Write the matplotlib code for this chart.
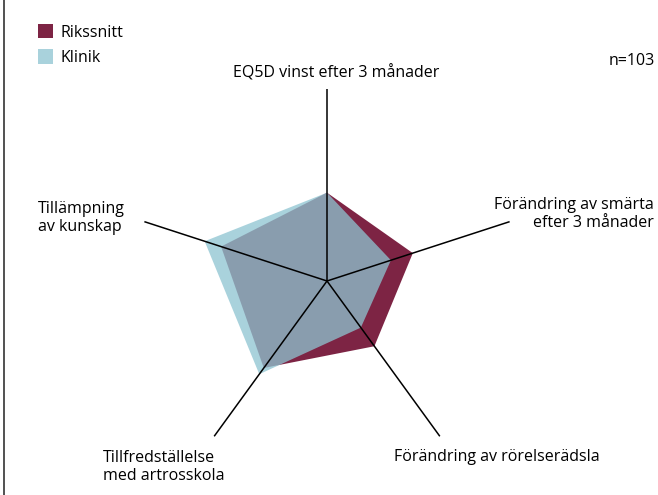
import numpy as np
import matplotlib.pyplot as plt
from matplotlib.lines import Line2D

plt.rcParams['font.family'] = ['Open Sans', 'DejaVu Sans']

# Axes in clockwise order from the top
categories = ['EQ5D vinst efter 3 månader',
              'Förändring av smärta\nefter 3 månader',
              'Förändring av rörelserädsla',
              'Tillfredställelse\nmed artrosskola',
              'Tillämpning\nav kunskap']
rikssnitt = [0.46, 0.47, 0.42, 0.56, 0.58]
klinik = [0.46, 0.35, 0.30, 0.60, 0.67]
n_label = 'n=103'

W, H = 658, 495
fig = plt.figure(figsize=(W / 100, H / 100), dpi=100)

def fx(px):
    return px / W

def fy(py):
    return 1 - py / H

# polar axes centred on pixel (327, 281), radius 1 = 192 px
cx, cy, R = 327, 281, 192
ax = fig.add_axes([fx(cx - R), fy(cy + R), 2 * R / W, 2 * R / H], projection='polar')
ax.set_theta_zero_location('N')
ax.set_theta_direction(-1)
ax.set_ylim(0, 1)
ax.axis('off')

theta = np.arange(len(categories)) * 2 * np.pi / len(categories)
th = np.append(theta, theta[0])

ax.fill(th, np.append(rikssnitt, rikssnitt[0]), color='#7d2444', lw=0, label='Rikssnitt', zorder=2)
ax.fill(th, np.append(klinik, klinik[0]), color='#8ec4d1', alpha=0.76, lw=0, label='Klinik', zorder=3)

for t in theta:
    ax.plot([t, t], [0, 1], color='black', lw=1.1, zorder=4)

fs = 11.5
ls = 1.17
# y positions are the baseline of the last line
fig.text(fx(336), fy(78), categories[0], ha='center', va='baseline', fontsize=fs)
fig.text(fx(654), fy(227), categories[1], ha='right', va='baseline', fontsize=fs,
         multialignment='right', linespacing=ls)
fig.text(fx(394), fy(461), categories[2], ha='left', va='baseline', fontsize=fs)
fig.text(fx(103), fy(480), categories[3], ha='left', va='baseline', fontsize=fs,
         linespacing=ls)
fig.text(fx(38), fy(231), categories[4], ha='left', va='baseline', fontsize=fs,
         linespacing=ls)
fig.text(fx(655), fy(65), n_label, ha='right', va='baseline', fontsize=fs)

handles, labels = ax.get_legend_handles_labels()
fig.legend(handles, labels, loc='upper left', bbox_to_anchor=(fx(38), fy(24)),
           frameon=False, fontsize=fs, borderpad=0, borderaxespad=0,
           handlelength=0.95, handleheight=1.0, handletextpad=0.45, labelspacing=0.55)

fig.add_artist(Line2D([fx(3.5), fx(3.5)], [0, 1], color='#333333', lw=1.2,
                      transform=fig.transFigure))

fig.savefig('out.png', dpi=100)
